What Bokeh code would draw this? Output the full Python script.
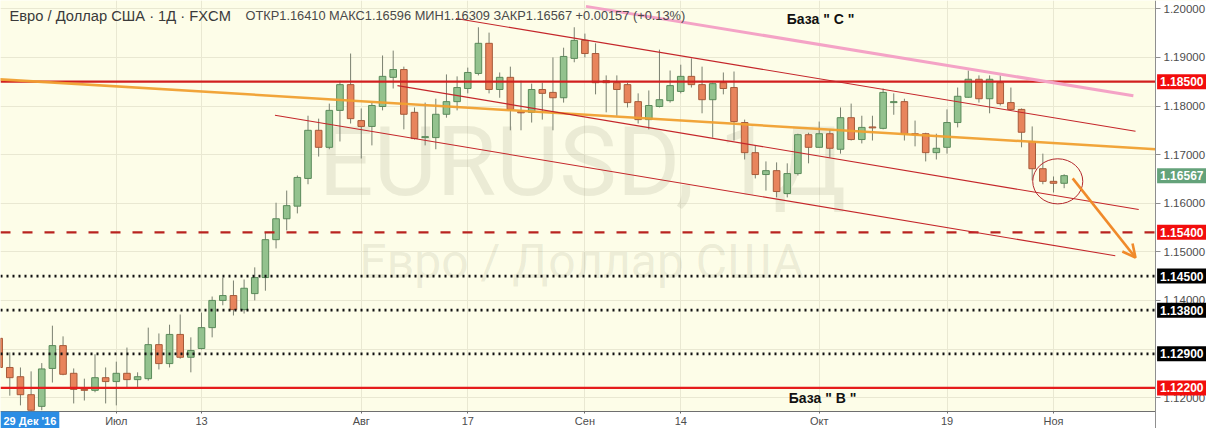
import numpy as np
from bokeh.plotting import figure
from bokeh.models import (ColumnDataSource, FixedTicker, PrintfTickFormatter, Label,
                          Arrow, OpenHead, Range1d, LinearAxis)
from bokeh.embed import file_html
from bokeh.resources import INLINE

# ---------------- data ----------------
opens = [1.1322, 1.1262, 1.1243, 1.1206, 1.1182, 1.1260, 1.1307, 1.1250, 1.1217, 1.1215,
         1.1241, 1.1233, 1.1250, 1.1237, 1.1239, 1.1309, 1.1270, 1.1330, 1.1283, 1.1301,
         1.1344, 1.1400, 1.1410, 1.1381, 1.1414, 1.1447, 1.1525, 1.1568, 1.1594, 1.1651,
         1.1750, 1.1715, 1.1791, 1.1844, 1.1770, 1.1758, 1.1799, 1.1859, 1.1875, 1.1787,
         1.1735, 1.1735, 1.1783, 1.1809, 1.1836, 1.1867, 1.1929, 1.1834, 1.1859, 1.1788,
         1.1787, 1.1834, 1.1828, 1.1817, 1.1898, 1.1935, 1.1908, 1.1852, 1.1848, 1.1844,
         1.1809, 1.1772, 1.1799, 1.1811, 1.1830, 1.1861, 1.1844, 1.1813, 1.1848, 1.1838,
         1.1766, 1.1704, 1.1659, 1.1667, 1.1620, 1.1661, 1.1741, 1.1715, 1.1743, 1.1711,
         1.1776, 1.1731, 1.1757, 1.1754, 1.1807, 1.1809, 1.1743, 1.1743, 1.1704, 1.1715,
         1.1766, 1.1818, 1.1855, 1.1815, 1.1848, 1.1807, 1.1793, 1.1727, 1.1671, 1.1645,
         1.16410]
highs = [1.1328, 1.1293, 1.1262, 1.1254, 1.1271, 1.1348, 1.1326, 1.1260, 1.1239, 1.1289,
         1.1262, 1.1274, 1.1303, 1.1252, 1.1344, 1.1332, 1.1350, 1.1371, 1.1324, 1.1375,
         1.1408, 1.1447, 1.1441, 1.1443, 1.1468, 1.1540, 1.1601, 1.1626, 1.1657, 1.1780,
         1.1774, 1.1805, 1.1852, 1.1908, 1.1795, 1.1807, 1.1904, 1.1914, 1.1881, 1.1797,
         1.1807, 1.1815, 1.1865, 1.1861, 1.1879, 1.1962, 1.1951, 1.1869, 1.1881, 1.1852,
         1.1846, 1.1848, 1.1900, 1.1920, 1.1962, 1.1949, 1.1929, 1.1863, 1.1863, 1.1848,
         1.1826, 1.1832, 1.1916, 1.1873, 1.1885, 1.1898, 1.1881, 1.1848, 1.1869, 1.1871,
         1.1772, 1.1719, 1.1686, 1.1684, 1.1682, 1.1743, 1.1745, 1.1768, 1.1752, 1.1797,
         1.1805, 1.1780, 1.1780, 1.1836, 1.1826, 1.1815, 1.1770, 1.1745, 1.1743, 1.1793,
         1.1838, 1.1873, 1.1863, 1.1863, 1.1863, 1.1838, 1.1795, 1.1758, 1.1702, 1.1655,
         1.16596]
lows = [1.1256, 1.1204, 1.1184, 1.1167, 1.1174, 1.1231, 1.1246, 1.1188, 1.1194, 1.1211,
        1.1188, 1.1184, 1.1221, 1.1219, 1.1235, 1.1258, 1.1262, 1.1280, 1.1252, 1.1299,
        1.1324, 1.1390, 1.1369, 1.1373, 1.1400, 1.1420, 1.1507, 1.1544, 1.1579, 1.1639,
        1.1696, 1.1711, 1.1727, 1.1764, 1.1692, 1.1719, 1.1791, 1.1836, 1.1752, 1.1731,
        1.1719, 1.1711, 1.1776, 1.1791, 1.1826, 1.1863, 1.1826, 1.1817, 1.1750, 1.1750,
        1.1766, 1.1772, 1.1750, 1.1807, 1.1890, 1.1900, 1.1824, 1.1787, 1.1780, 1.1797,
        1.1764, 1.1752, 1.1797, 1.1807, 1.1826, 1.1838, 1.1785, 1.1735, 1.1824, 1.1729,
        1.1690, 1.1651, 1.1626, 1.1612, 1.1612, 1.1657, 1.1682, 1.1714, 1.1694, 1.1702,
        1.1729, 1.1723, 1.1729, 1.1752, 1.1782, 1.1729, 1.1717, 1.1686, 1.1690, 1.1702,
        1.1756, 1.1817, 1.1807, 1.1785, 1.1801, 1.1791, 1.1715, 1.1647, 1.1639, 1.1622,
        1.16309]
closes = [1.1262, 1.1241, 1.1206, 1.1174, 1.1259, 1.1307, 1.1248, 1.1217, 1.1215, 1.1241,
          1.1233, 1.1250, 1.1237, 1.1243, 1.1309, 1.1270, 1.1330, 1.1283, 1.1297, 1.1344,
          1.1400, 1.1410, 1.1381, 1.1425, 1.1447, 1.1525, 1.1568, 1.1595, 1.1653, 1.1750,
          1.1715, 1.1791, 1.1844, 1.1774, 1.1758, 1.1801, 1.1861, 1.1875, 1.1783, 1.1733,
          1.1737, 1.1783, 1.1809, 1.1838, 1.1869, 1.1929, 1.1834, 1.1859, 1.1793, 1.1786,
          1.1834, 1.1826, 1.1817, 1.1902, 1.1935, 1.1908, 1.1848, 1.1848, 1.1834, 1.1807,
          1.1772, 1.1801, 1.1813, 1.1842, 1.1861, 1.1844, 1.1813, 1.1846, 1.1836, 1.1768,
          1.1704, 1.1659, 1.1667, 1.1624, 1.1661, 1.1741, 1.1715, 1.1743, 1.1713, 1.1776,
          1.1731, 1.1756, 1.1755, 1.1828, 1.1809, 1.1743, 1.1741, 1.1704, 1.1713, 1.1766,
          1.1820, 1.1855, 1.1815, 1.1855, 1.1805, 1.1793, 1.1746, 1.1671, 1.1645, 1.1641,
          1.16567]

# x-axis ticks (bar index) and their labels
x_ticks = [11, 19, 34, 44, 55, 64, 77, 89, 99]
x_labels = ["Июл", "13", "Авг", "17", "Сен", "14", "Окт", "19", "Ноя"]
y_ticks = [1.12, 1.13, 1.14, 1.15, 1.16, 1.17, 1.18, 1.19, 1.20]

# horizontal levels
levels = [1.185, 1.154, 1.145, 1.138, 1.129, 1.122]
level_colors = ["#d11f1f", "#b8231f", "#111111", "#111111", "#111111", "#e51c1c"]
level_dash = ["solid", "10 12", "2 4", "2 4", "2 4", "solid"]
level_box = ["#f20d0d", "#f20d0d", "#000000", "#000000", "#000000", "#f20d0d"]

# trend lines: (bar index, price) end points
orange_line = ([0.0, 108.6], [1.1855, 1.1711])
pink_line = ([55.1, 106.5], [1.2005, 1.1821])
channel_lines = [([42.9, 106.7], [1.1980, 1.1748]),
                 ([37.4, 107.0], [1.1842, 1.1587]),
                 ([25.9, 104.8], [1.1781, 1.1492])]
circle_center = (99.4, 1.1645)
circle_size = (4.7, 0.0093)
arrow_start = (100.8, 1.1651)
arrow_end = (106.7, 1.1488)

# ---------------- geometry of the picture ----------------
W, H = 1206, 428
BAR_PX = 10.65          # pixels per bar
PX_PER_PRICE = 4860.0   # pixels per 1.0 of price
X0 = 1.35 / BAR_PX
X1 = (W + 1.35) / BAR_PX
Y1 = 1.20171
Y0 = Y1 - H / PX_PER_PRICE
AXIS_X = (1155 + 1.35) / BAR_PX          # right price scale line
AXIS_Y = Y1 - 411 / PX_PER_PRICE         # bottom time scale line

def xk(px):
    return (px + 1.35) / BAR_PX

def yp(py):
    return Y1 - py / PX_PER_PRICE

p = figure(width=W, height=H, x_range=Range1d(X0, X1), y_range=Range1d(Y0, Y1),
           output_backend="svg", toolbar_location=None,
           x_axis_location=None, y_axis_location=None,
           min_border=0, min_border_left=0, min_border_right=0,
           min_border_top=0, min_border_bottom=0,
           background_fill_color="#fdfde8", border_fill_color="white", outline_line_color=None)

FONT = "Liberation Sans"

p.xgrid.ticker = FixedTicker(ticks=x_ticks)
p.ygrid.ticker = FixedTicker(ticks=y_ticks)
p.xgrid.grid_line_color = "#e9e8d2"
p.ygrid.grid_line_color = "#e9e8d2"

# watermarks
p.add_layout(Label(x=xk(318), y=yp(161), text="EURUSD, 1Д", text_font_size="97px",
                   text_font="Roboto", text_color="#7d7d60", text_alpha=0.14,
                   text_baseline="middle", level="underlay"))
p.add_layout(Label(x=xk(359), y=yp(261), text="Евро / Доллар США", text_font_size="48px",
                   text_font="Roboto", text_color="#7d7d60", text_alpha=0.14,
                   text_baseline="middle", level="underlay"))

# candles
o = np.array(opens); h = np.array(highs); l = np.array(lows); c = np.array(closes)
idx = np.arange(len(o))
inc = c >= o
dec = ~inc
for mask, fill, edge in [(inc, "#93c28e", "#5a8a5a"), (dec, "#e8845c", "#a65a3a")]:
    src = ColumnDataSource(dict(x=idx[mask], hi=h[mask], lo=l[mask],
                                top=np.maximum(o, c)[mask], bot=np.minimum(o, c)[mask]))
    p.segment(x0="x", y0="hi", x1="x", y1="lo", source=src, line_color="#7a8070", line_width=1)
    p.vbar(x="x", width=0.62, top="top", bottom="bot", source=src,
           fill_color=fill, line_color=edge, line_width=1)

# horizontal levels
for lv, col, dash in zip(levels, level_colors, level_dash):
    p.segment(x0=[X0], y0=[lv], x1=[AXIS_X], y1=[lv], line_color=col,
              line_width=2.2 if dash != "2 4" else 2.6, line_dash=dash)

# trend lines
p.line(orange_line[0], orange_line[1], line_color="#f0a030", line_width=2.6, line_alpha=0.95)
p.line(pink_line[0], pink_line[1], line_color="#f4a3c6", line_width=3)
for xs, ys in channel_lines:
    p.line(xs, ys, line_color="#c4262a", line_width=1.1)

# circle
p.ellipse(x=[circle_center[0]], y=[circle_center[1]], width=circle_size[0], height=circle_size[1],
          fill_color=None, line_color="#b3282c", line_width=1)

# white scale areas (right price scale, bottom time scale)
p.quad(left=[AXIS_X], right=[X1], bottom=[Y0], top=[Y1], fill_color="white", line_color=None)
p.quad(left=[X0], right=[AXIS_X], bottom=[Y0], top=[AXIS_Y], fill_color="white", line_color=None)

# arrow
p.add_layout(Arrow(end=OpenHead(size=13, line_color="#f08a2a", line_width=2.6),
                   x_start=arrow_start[0], y_start=arrow_start[1],
                   x_end=arrow_end[0], y_end=arrow_end[1],
                   line_color="#f08a2a", line_width=2.6))

# axes drawn at fixed positions inside the canvas
yax = LinearAxis(fixed_location=AXIS_X, ticker=FixedTicker(ticks=[t for t in y_ticks if t != 1.13]),
                 formatter=PrintfTickFormatter(format="%.5f"))
yax.major_label_text_font_size = "11.5px"
yax.major_label_text_font = FONT
yax.major_label_text_color = "#4d4d4d"
yax.axis_line_color = "#8f8f8f"
yax.major_tick_line_color = "#8f8f8f"
yax.major_tick_out = 5
yax.major_tick_in = 0
yax.minor_tick_line_color = None
yax.major_label_standoff = 3
p.add_layout(yax, "right")

xax = LinearAxis(fixed_location=AXIS_Y, ticker=FixedTicker(ticks=x_ticks), bounds=(X0, AXIS_X))
xax.major_label_overrides = {t: lab for t, lab in zip(x_ticks, x_labels)}
xax.major_label_text_font_size = "11px"
xax.major_label_text_font = FONT
xax.major_label_text_color = "#4d4d4d"
xax.axis_line_color = "#6f6f6f"
xax.major_tick_line_color = "#6f6f6f"
xax.major_tick_out = 2
xax.major_tick_in = 0
xax.minor_tick_line_color = None
xax.major_label_standoff = 1
p.add_layout(xax, "below")

# right axis price boxes
box_x = AXIS_X + 0.15
for lv, bcol in zip(levels, level_box):
    p.add_layout(Label(x=box_x, y=lv, text=f"{lv:.5f}", text_color="white",
                       text_font=FONT, text_font_size="12px", text_font_style="bold",
                       text_baseline="middle", text_align="left",
                       background_fill_color=bcol, padding=3))
p.add_layout(Label(x=box_x, y=closes[-1], text=f"{closes[-1]:.5f}", text_color="white",
                   text_font=FONT, text_font_size="12px", text_font_style="bold",
                   text_baseline="middle", text_align="left",
                   background_fill_color="#64a27a", padding=3))

# header
p.add_layout(Label(x=xk(9), y=yp(15), text="Евро / Доллар США · 1Д · FXCM",
                   text_font=FONT, text_font_size="14.7px", text_color="#3a3a3a",
                   text_baseline="middle"))
ohlc = (f"ОТКР{opens[-1]:.5f} МАКС{highs[-1]:.5f} МИН{lows[-1]:.5f} "
        f"ЗАКР{closes[-1]:.5f} +0.00157 (+0.13%)")
p.add_layout(Label(x=xk(245), y=yp(15), text=ohlc, text_font=FONT, text_font_size="12.8px",
                   text_color="#4a4a4a", text_baseline="middle"))

# base labels
p.add_layout(Label(x=xk(822), y=yp(18), text='База  " C "', text_font=FONT,
                   text_font_size="14px", text_font_style="bold", text_color="#111111",
                   text_align="center", text_baseline="middle"))
p.add_layout(Label(x=xk(822), y=yp(397), text='База " В "', text_font=FONT,
                   text_font_size="14px", text_font_style="bold", text_color="#111111",
                   text_align="center", text_baseline="middle"))

# crosshair date box
p.add_layout(Label(x=xk(0), y=yp(420), text="29 Дек '16", text_font=FONT,
                   text_font_size="11px", text_font_style="bold", text_color="white",
                   text_baseline="middle", background_fill_color="#2a8de4", padding=3))

open("out.html", "w").write(file_html(p, INLINE))
